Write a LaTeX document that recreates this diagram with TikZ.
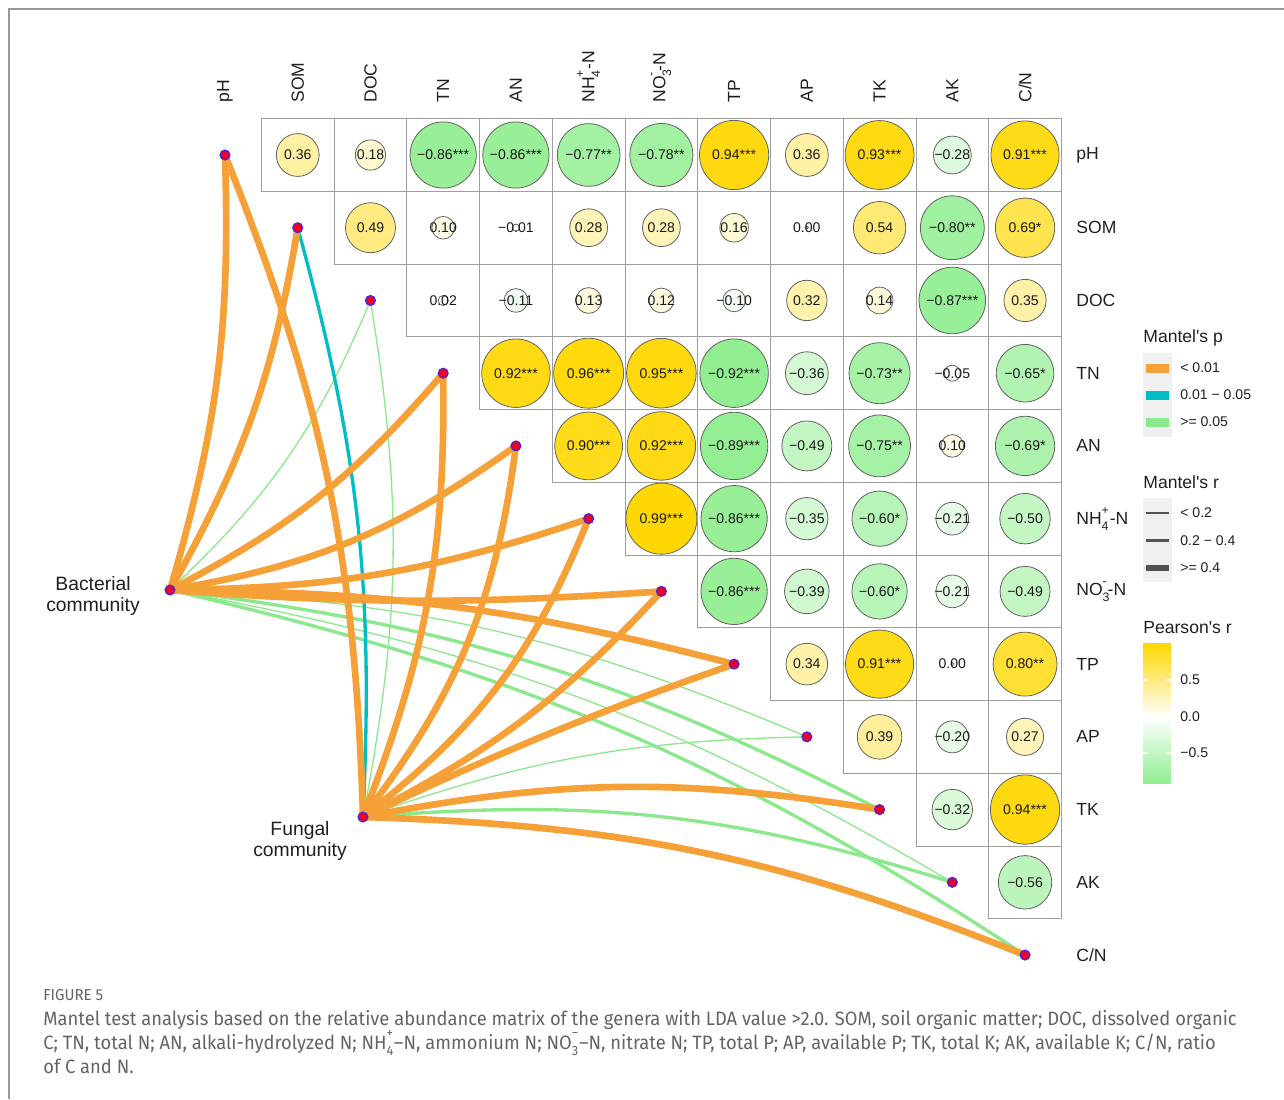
\documentclass[tikz,border=0pt]{standalone}
\usepackage{fontspec}
\setmainfont{Liberation Sans}
\newfontfamily\capfont[FakeStretch=0.95]{Fira Sans}
\usepackage{tikz}

\definecolor{pgold}{RGB}{255,215,0}
\definecolor{pgreen}{RGB}{144,238,144}
\definecolor{porange}{RGB}{246,160,56}
\definecolor{pcyan}{RGB}{0,190,196}
\definecolor{plgreen}{RGB}{140,232,140}
\definecolor{dotred}{RGB}{238,0,40}
\definecolor{dotblue}{RGB}{70,40,220}
\definecolor{capgray}{RGB}{100,100,100}
\definecolor{keybg}{RGB}{240,240,240}

\newcommand{\subsup}[2]{\rlap{\raisebox{-0.35ex}{\textsubscript{#1}}}\raisebox{0.4ex}{\textsuperscript{#2}}}
\newcommand{\NHfour}{NH\subsup{4}{+}-N}
\newcommand{\NOthree}{NO\subsup{3}{-}-N}
\newcommand{\CNratio}{C/N}

\tikzset{
  rthin/.style={line width=0.75pt},
  rmid/.style={line width=1.9pt},
  rthick/.style={line width=3.8pt},
  envdot/.style={circle, fill=dotred, draw=dotblue, line width=0.7pt, inner sep=0pt, minimum size=5.6pt},
  axlab/.style={font=\fontsize{10}{12}\selectfont, text=black!88, inner sep=0pt},
  cellnum/.style={font=\fontsize{8}{9}\selectfont, text=black!90, inner sep=0pt},
  cellbox/.style={draw=black!38, line width=0.5pt},
  legtitle/.style={font=\fontsize{10}{12}\selectfont, text=black!88, anchor=west, inner sep=0pt},
  leglab/.style={font=\fontsize{8}{9}\selectfont, text=black!88, anchor=west, inner sep=0pt},
  commlab/.style={font=\fontsize{11}{12.5}\selectfont, text=black!88, align=center, inner sep=0pt},
  caption/.style={anchor=base west, inner sep=0pt, text=capgray, font=\capfont\fontsize{11}{13}\selectfont},
}

\begin{document}
\begin{tikzpicture}[x=0.02cm, y=0.02cm]
        \def\cs{72.73}
        \useasboundingbox (0,0) rectangle (1284,-1099);

        %Frame
        \draw[black!40, line width=0.8pt] (9,-1099) -- (9,-9) -- (1284,-9);

        %Variables
        \foreach \k/\lab in {1/pH,2/SOM,3/DOC,4/TN,5/AN,6/\NHfour,7/\NOthree,8/TP,9/AP,10/TK,11/AK,12/\CNratio}{
            \coordinate (e\k) at ({225+(\k-1)*\cs},{-155-(\k-1)*\cs});
            \node[axlab, rotate=90, anchor=west] (top\k) at ({225+(\k-1)*\cs},-103) {\lab};
            \node[axlab, anchor=west] (side\k) at (1076,{-155-(\k-1)*\cs}) {\lab};
        }

        %Pearson's r
        \foreach \i/\j/\r/\t in {
            1/2/0.36/0.36, 1/3/0.18/0.18, 1/4/-0.86/−0.86***, 1/5/-0.86/−0.86***, 1/6/-0.77/−0.77**,
            1/7/-0.78/−0.78**, 1/8/0.94/0.94***, 1/9/0.36/0.36, 1/10/0.93/0.93***, 1/11/-0.28/−0.28, 1/12/0.91/0.91***,
            2/3/0.49/0.49, 2/4/0.10/0.10, 2/5/-0.01/−0.01, 2/6/0.28/0.28, 2/7/0.28/0.28, 2/8/0.16/0.16,
            2/9/0.00/0.00, 2/10/0.54/0.54, 2/11/-0.80/−0.80**, 2/12/0.69/0.69*,
            3/4/0.02/0.02, 3/5/-0.11/−0.11, 3/6/0.13/0.13, 3/7/0.12/0.12, 3/8/-0.10/−0.10, 3/9/0.32/0.32,
            3/10/0.14/0.14, 3/11/-0.87/−0.87***, 3/12/0.35/0.35,
            4/5/0.92/0.92***, 4/6/0.96/0.96***, 4/7/0.95/0.95***, 4/8/-0.92/−0.92***, 4/9/-0.36/−0.36,
            4/10/-0.73/−0.73**, 4/11/-0.05/−0.05, 4/12/-0.65/−0.65*,
            5/6/0.90/0.90***, 5/7/0.92/0.92***, 5/8/-0.89/−0.89***, 5/9/-0.49/−0.49, 5/10/-0.75/−0.75**,
            5/11/0.10/0.10, 5/12/-0.69/−0.69*,
            6/7/0.99/0.99***, 6/8/-0.86/−0.86***, 6/9/-0.35/−0.35, 6/10/-0.60/−0.60*, 6/11/-0.21/−0.21, 6/12/-0.50/−0.50,
            7/8/-0.86/−0.86***, 7/9/-0.39/−0.39, 7/10/-0.60/−0.60*, 7/11/-0.21/−0.21, 7/12/-0.49/−0.49,
            8/9/0.34/0.34, 8/10/0.91/0.91***, 8/11/0.00/0.00, 8/12/0.80/0.80**,
            9/10/0.39/0.39, 9/11/-0.20/−0.20, 9/12/0.27/0.27,
            10/11/-0.32/−0.32, 10/12/0.94/0.94***,
            11/12/-0.56/−0.56}{
            \pgfmathsetmacro{\cx}{225+(\j-1)*\cs}
            \pgfmathsetmacro{\cy}{-155-(\i-1)*\cs}
            \pgfmathsetmacro{\rad}{max(1.6,35.7*sqrt(abs(\r)))}
            \ifdim\r pt>0pt
                \pgfmathsetmacro{\pct}{100*\r}\colorlet{cfill}{pgold!\pct!white}
            \else
                \pgfmathsetmacro{\pct}{min(100,108*abs(\r))}\colorlet{cfill}{pgreen!\pct!white}
            \fi
            \draw[cellbox] ({\cx-\cs/2},{\cy-\cs/2}) rectangle +(\cs,\cs);
            \draw[fill=cfill, draw=black!62, line width=0.45pt] (\cx,\cy) circle[radius=\rad];
            \node[cellnum] (v\i-\j) at (\cx,\cy) {\t};
        }

        %Communities
        \coordinate (B) at (170,-590);
        \coordinate (F) at (363,-817);

        %Mantel links (bend > 0 bends right, seen from the community)
        \foreach \s/\e/\col/\w/\b in {
            B/3/plgreen/rthin/12, B/9/plgreen/rthin/-10, B/10/plgreen/rmid/-10, B/11/plgreen/rthin/-10, B/12/plgreen/rmid/-10,
            F/3/plgreen/rthin/10, F/9/plgreen/rthin/-9, F/11/plgreen/rmid/-11,
            F/2/pcyan/rmid/9,
            B/1/porange/rthick/9, B/2/porange/rthick/10, B/4/porange/rthick/11, B/5/porange/rthick/13,
            B/6/porange/rthick/9, B/7/porange/rthick/4, B/8/porange/rthick/-7,
            F/1/porange/rthick/10, F/4/porange/rthick/11, F/5/porange/rthick/15, F/6/porange/rthick/15,
            F/7/porange/rthick/10, F/8/porange/rthick/-3, F/10/porange/rthick/-10, F/12/porange/rthick/-10}{
            \pgfmathsetmacro{\bo}{0-(\b)}
            \pgfmathsetmacro{\bi}{180+(\b)}
            \draw[\col,\w] (\s) to[out=\bo,in=\bi,relative] (e\e);
        }

        %Dots
        \foreach \k in {1,...,12}
            \node[envdot] (d\k) at (e\k) {};
        \node[envdot] (bac) at (B) {};
        \node[envdot] (fun) at (F) {};
        \node[commlab] (baclab) at (93,-596) {Bacterial\\community};
        \node[commlab] (funlab) at (300,-841) {Fungal\\community};

        %Legend: Mantel's p
        \node[legtitle] (ptitle) at (1143,-338) {Mantel\textquotesingle s p};
        \fill[keybg] (1143,-353) rectangle (1172,-437);
        \foreach \k/\col/\lab in {0/porange/{< 0.01},1/pcyan/{0.01 − 0.05},2/plgreen/{>= 0.05}}{
            \fill[\col] (1146,{-363.5-27*\k}) rectangle +(23,-9);
            \node[leglab] (pkey\k) at (1180,{-368-27*\k}) {\lab};
        }

        %Legend: Mantel's r
        \node[legtitle] (rtitle) at (1143,-482) {Mantel\textquotesingle s r};
        \fill[keybg] (1143,-498) rectangle (1172,-582);
        \foreach \k/\w/\lab in {0/rthin/{< 0.2},1/rmid/{0.2 − 0.4},2/rthick/{>= 0.4}}{
            \draw[black!68,\w] (1146,{-513-27.5*\k}) -- +(23,0);
            \node[leglab] (wkey\k) at (1180,{-513-27.5*\k}) {\lab};
        }

        %Legend: Pearson's r
        \node[legtitle] (ctitle) at (1143,-628) {Pearson\textquotesingle s r};
        \shade[top color=pgold, bottom color=white] (1143,-643) rectangle (1171,-717);
        \shade[top color=white, bottom color=pgreen] (1143,-717) rectangle (1171,-783);
        \foreach \k/\v/\lab in {0/680/0.5,1/717/0.0,2/753/−0.5}{
            \draw[white, line width=0.6pt] (1143,-\v) -- +(5,0) (1171,-\v) -- +(-5,0);
            \node[leglab] (ckey\k) at (1180,-\v) {\lab};
        }

        %Caption
        \node[caption, font=\capfont\fontsize{9}{10}\selectfont] (fignum) at (43,-1000) {FIGURE 5};
        \node[caption] (cap1) at (43,-1025) {Mantel test analysis based on the relative abundance matrix of the genera with LDA value >2.0. SOM, soil organic matter; DOC, dissolved organic};
        \node[caption] (cap2) at (43,-1049) {C; TN, total N; AN, alkali-hydrolyzed N; NH\subsup{4}{+}–N, ammonium N; NO\subsup{3}{−}–N, nitrate N; TP, total P; AP, available P; TK, total K; AK, available K; C/N, ratio};
        \node[caption] (cap3) at (43,-1073) {of C and N.};
    \end{tikzpicture}
\end{document}
